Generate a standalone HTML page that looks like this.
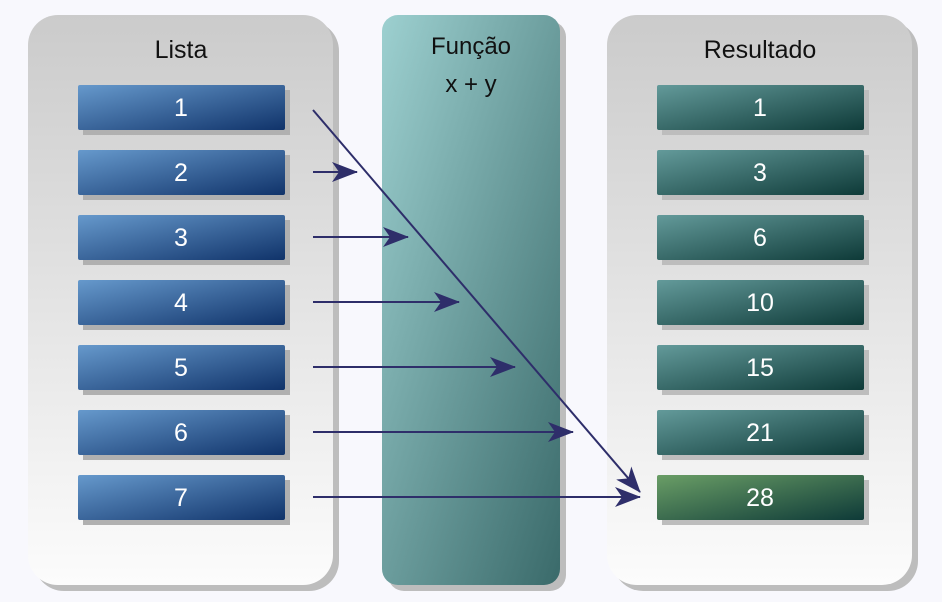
<!DOCTYPE html>
<html><head><meta charset="utf-8"><style>
body{margin:0;background:#f8f8fd;}
svg{display:block;font-family:"Liberation Sans","DejaVu Sans",sans-serif;}
</style></head><body>
<svg width="942" height="602" viewBox="0 0 942 602">
<defs>
<linearGradient id="gp" x1="0" y1="0" x2="0" y2="1"><stop offset="0" stop-color="#cbcbcb"/><stop offset="1" stop-color="#fcfcfc"/></linearGradient>
<linearGradient id="gm" x1="0" y1="0" x2="1" y2="1"><stop offset="0" stop-color="#9dd0d0"/><stop offset="1" stop-color="#3a6a6a"/></linearGradient>
<linearGradient id="gb" x1="0" y1="0" x2="1" y2="1"><stop offset="0" stop-color="#6699cc"/><stop offset="1" stop-color="#10336a"/></linearGradient>
<linearGradient id="gr" x1="0" y1="0" x2="1" y2="1"><stop offset="0" stop-color="#639a9a"/><stop offset="1" stop-color="#0e3a38"/></linearGradient>
<linearGradient id="gg" x1="0" y1="0" x2="1" y2="1"><stop offset="0" stop-color="#6a9e66"/><stop offset="1" stop-color="#0e3a38"/></linearGradient>
<marker id="ah" markerWidth="26" markerHeight="20" refX="25" refY="10" orient="auto" markerUnits="userSpaceOnUse" viewBox="0 0 26 20"><path d="M0,0 L26,10 L0,20 L7,10 Z" fill="#2e2e6a"/></marker>
</defs>
<g id="panels">
<rect x="34" y="21" width="305" height="570" rx="30" fill="#bdbdbd"/>
<rect x="28" y="15" width="305" height="570" rx="30" fill="url(#gp)"/>
<rect x="388" y="21" width="178" height="570" rx="16" fill="#bdbdbd"/>
<rect x="382" y="15" width="178" height="570" rx="16" fill="url(#gm)"/>
<rect x="613" y="21" width="305" height="570" rx="30" fill="#bdbdbd"/>
<rect x="607" y="15" width="305" height="570" rx="30" fill="url(#gp)"/>
<text x="181" y="58" text-anchor="middle" font-size="25" fill="#111">Lista</text>
<text x="471" y="54" text-anchor="middle" font-size="24" fill="#111">Função</text>
<text x="471" y="92" text-anchor="middle" font-size="24" fill="#111">x + y</text>
<text x="760" y="58" text-anchor="middle" font-size="25" fill="#111">Resultado</text>
</g>
<g id="items"></g>
<g id="arrows"></g>
</svg>
<script>
const listValues=[1,2,3,4,5,6,7];
const resultValues=[1,3,6,10,15,21,28];
const arrowTips=[null,357,408,459,515,573,640];
const ns="http://www.w3.org/2000/svg";
const rowY=i=>85+65*i;
const items=document.getElementById('items');
const arrows=document.getElementById('arrows');
function mk(tag,attrs,parent){const e=document.createElementNS(ns,tag);for(const k in attrs)e.setAttribute(k,attrs[k]);parent.appendChild(e);return e;}
listValues.forEach((v,i)=>{
  const y=rowY(i);
  mk('rect',{x:83,y:y+5,width:207,height:45,fill:'#b0b0b0'},items);
  const r=mk('rect',{x:78,y:y,width:207,height:45,rx:2,fill:'url(#gb)'},items);
  
  
  const t=mk('text',{x:181,y:y+31,'text-anchor':'middle','font-size':25,fill:'#fff'},items);
  t.textContent=v;
  
  
});
resultValues.forEach((v,i)=>{
  const y=rowY(i);
  mk('rect',{x:662,y:y+5,width:207,height:45,fill:'#bdbdbd'},items);
  const r=mk('rect',{x:657,y:y,width:207,height:45,rx:2,fill:i===resultValues.length-1?'url(#gg)':'url(#gr)'},items);
  
  
  const t=mk('text',{x:760,y:y+31,'text-anchor':'middle','font-size':25,fill:'#fff'},items);
  t.textContent=v;
  
  
});
arrowTips.forEach((tip,i)=>{
  if(tip===null)return;
  const y=rowY(i)+22;
  const l=mk('line',{x1:313,y1:y,x2:tip,y2:y,stroke:'#2e2e6a','stroke-width':2,'marker-end':'url(#ah)'},arrows);
  
  
});
const d=mk('line',{x1:313,y1:110,x2:640,y2:492,stroke:'#2e2e6a','stroke-width':2,'marker-end':'url(#ah)'},arrows);


</script>
</body></html>
